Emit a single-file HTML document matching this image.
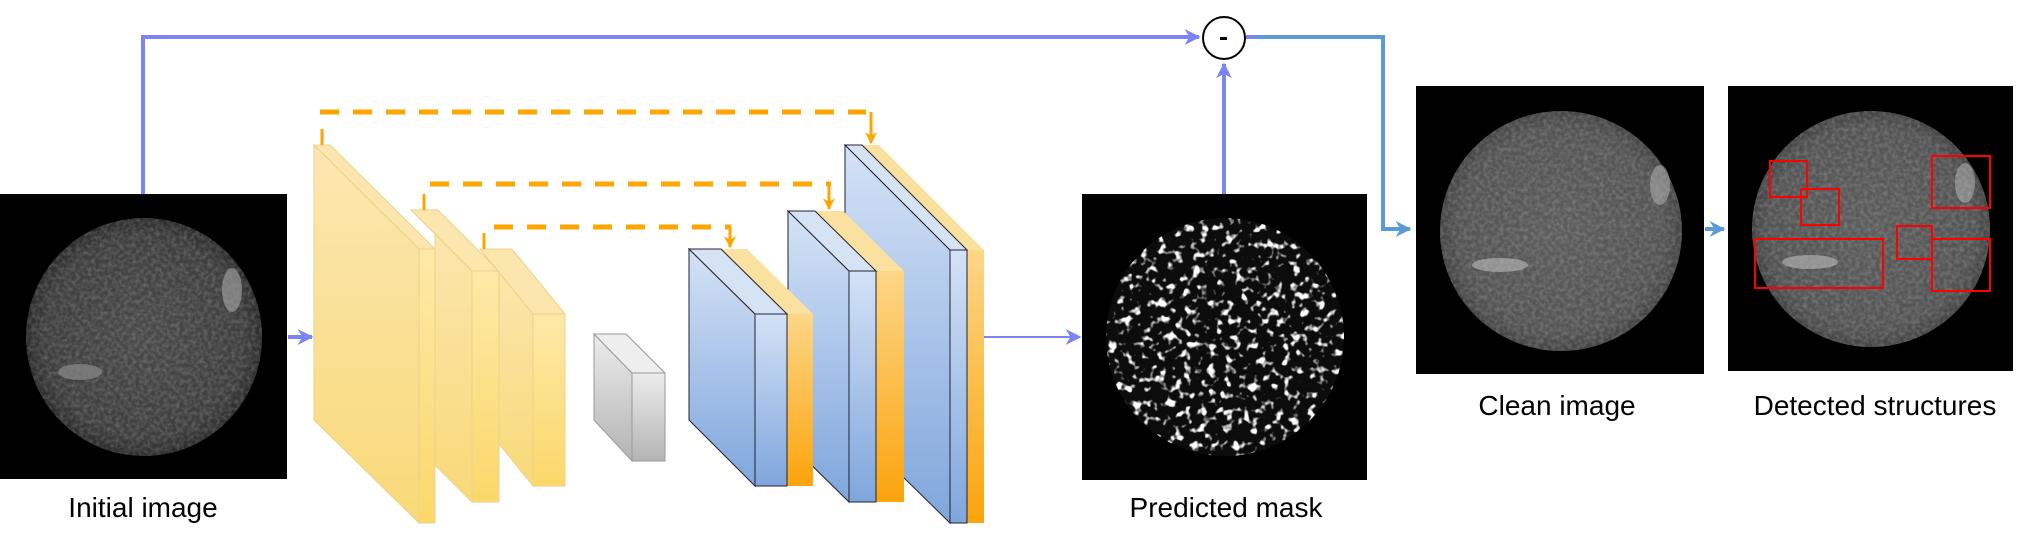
<!DOCTYPE html>
<html><head><meta charset="utf-8"><style>
html,body{margin:0;padding:0;background:#fff;}
svg{display:block;}
text{font-family:"Liberation Sans",sans-serif;}
</style></head><body>
<svg width="2020" height="540" viewBox="0 0 2020 540" xmlns="http://www.w3.org/2000/svg">
<defs>
  <linearGradient id="yel" x1="0" y1="0" x2="0" y2="1"><stop offset="0" stop-color="#fbe7b2"/><stop offset="1" stop-color="#f9d978"/></linearGradient>
  <linearGradient id="yelF" x1="0" y1="0" x2="0" y2="1"><stop offset="0" stop-color="#fde9a8"/><stop offset="1" stop-color="#fcd86a"/></linearGradient>
  <linearGradient id="blu" x1="0" y1="0" x2="0" y2="1"><stop offset="0" stop-color="#d4e2f6"/><stop offset="1" stop-color="#7fa6dc"/></linearGradient>
  <linearGradient id="ora" x1="0" y1="0" x2="0" y2="1"><stop offset="0" stop-color="#fdd688"/><stop offset="1" stop-color="#fba40c"/></linearGradient>
  <linearGradient id="gry" x1="0" y1="0" x2="0" y2="1"><stop offset="0" stop-color="#ececec"/><stop offset="1" stop-color="#b4b4b4"/></linearGradient>
  <radialGradient id="sun" cx="0.5" cy="0.5" r="0.5"><stop offset="0" stop-color="#4a4a4a"/><stop offset="0.85" stop-color="#3e3e3e"/><stop offset="1" stop-color="#2c2c2c"/></radialGradient>
  <radialGradient id="sun2" cx="0.5" cy="0.5" r="0.5"><stop offset="0" stop-color="#5c5c5c"/><stop offset="0.85" stop-color="#545454"/><stop offset="1" stop-color="#444"/></radialGradient>
  <filter id="noise" x="0" y="0" width="1" height="1">
    <feTurbulence type="fractalNoise" baseFrequency="0.25" numOctaves="2" seed="3"/>
    <feColorMatrix type="matrix" values="0 0 0 0 1 0 0 0 0 1 0 0 0 0 1 0 0 0 0.35 -0.12"/>
    <feComposite in2="SourceGraphic" operator="in"/>
  </filter>
  <filter id="specks" x="0" y="0" width="1" height="1">
    <feTurbulence type="fractalNoise" baseFrequency="0.12" numOctaves="2" seed="7"/>
    <feColorMatrix type="matrix" values="0 0 0 0 1 0 0 0 0 1 0 0 0 0 1 0 0 0 6 -3.3"/>
    <feComposite in2="SourceGraphic" operator="in"/>
  </filter>
  <marker id="ab" viewBox="0 0 10 10" refX="9" refY="5" markerWidth="4" markerHeight="4" orient="auto"><path d="M0,0 L10,5 L0,10 L3,5z" fill="#7b83f5"/></marker>
  <marker id="as" viewBox="0 0 10 10" refX="9" refY="5" markerWidth="4" markerHeight="4" orient="auto"><path d="M0,0 L10,5 L0,10 L3,5z" fill="#5b9bd5"/></marker>
  <marker id="abt" viewBox="0 0 10 10" refX="9" refY="5" markerWidth="8" markerHeight="8" orient="auto"><path d="M0,0 L10,5 L0,10 L3,5z" fill="#7b83f5"/></marker>
  <marker id="ao" viewBox="0 0 10 10" refX="9" refY="5" markerWidth="4" markerHeight="4" orient="auto"><path d="M0,0 L10,5 L0,10 L3,5z" fill="#ffa500"/></marker>
</defs>

<g>
  <polyline points="143,194 143,37 1199,37" fill="none" stroke="#7b83f5" stroke-width="4" marker-end="url(#ab)"/>
</g>
<g>
  <circle cx="1224" cy="38" r="21" fill="#fff" stroke="#000" stroke-width="2"/>
  <rect x="1220" y="37" width="7" height="3" fill="#000"/>
</g>
<line x1="1224" y1="194" x2="1224" y2="64" stroke="#7b83f5" stroke-width="4" marker-end="url(#ab)"/>
<line x1="1246" y1="37" x2="1258" y2="37" stroke="#7b83f5" stroke-width="4"/>
<polyline points="1258,37 1383,37 1383,229 1410,229" fill="none" stroke="#5b9bd5" stroke-width="4" marker-end="url(#as)"/>
<line x1="1705" y1="229" x2="1724" y2="229" stroke="#5b9bd5" stroke-width="4" marker-end="url(#as)"/>
<line x1="288" y1="337" x2="312" y2="337" stroke="#7b83f5" stroke-width="4" marker-end="url(#ab)"/>
<line x1="984" y1="337" x2="1080" y2="337" stroke="#7b83f5" stroke-width="2" marker-end="url(#abt)"/>

<g>
  <rect x="0" y="194" width="287" height="285" fill="#000"/>
  <ellipse cx="144" cy="337" rx="118" ry="119" fill="url(#sun)"/>
  <ellipse cx="144" cy="337" rx="118" ry="119" fill="#fff" filter="url(#noise)"/>
  <ellipse cx="232" cy="290" rx="10" ry="22" fill="#9a9a9a" opacity="0.7"/>
  <ellipse cx="80" cy="372" rx="22" ry="8" fill="#8a8a8a" opacity="0.7"/>
</g>
<text x="143" y="517" font-size="28" text-anchor="middle">Initial image</text>

<g stroke="#ecd28a" stroke-width="1">
  <polygon points="314,145 419,249 419,523 314,420" fill="url(#yel)"/>
  <polygon points="314,145 330,145 435,249 419,249" fill="#fbe6ad"/>
  <rect x="419" y="249" width="16" height="274" fill="url(#yelF)"/>
</g>
<g stroke="#ecd28a" stroke-width="1">
  <polygon points="411,210 472,271 472,502 435,465 435,234" fill="url(#yel)"/>
  <polygon points="411,210 438,210 499,271 472,271" fill="#fbe6ad"/>
  <rect x="472" y="271" width="27" height="231" fill="url(#yelF)"/>
</g>
<g stroke="#ecd28a" stroke-width="1">
  <polygon points="480,249 533,314 533,486 499,444 499,272" fill="url(#yel)"/>
  <polygon points="480,249 512,249 565,314 533,314" fill="#fbe6ad"/>
  <rect x="533" y="314" width="32" height="172" fill="url(#yelF)"/>
</g>
<g stroke="#999" stroke-width="1">
  <polygon points="594,334 632,373 632,461 594,420" fill="url(#gry)"/>
  <polygon points="594,334 626,334 665,373 632,373" fill="#eee"/>
  <rect x="632" y="373" width="33" height="88" fill="url(#gry)"/>
</g>

<!-- decoder blocks drawn back to front -->
<g>
  <polygon points="862,145 967,250 984,250 879,145" fill="#fbe1a0"/>
  <rect x="967" y="250" width="17" height="273" fill="url(#ora)"/>
  <polygon points="845,145 950,250 950,523 845,420" fill="url(#blu)" stroke="#223" stroke-width="1"/>
  <polygon points="845,145 862,145 967,250 950,250" fill="#d6e3f5" stroke="#223" stroke-width="1"/>
  <rect x="950" y="250" width="17" height="273" fill="url(#blu)" stroke="#223" stroke-width="1"/>
</g>
<g>
  <polygon points="815,211 876,271 904,271 843,211" fill="#fbe1a0"/>
  <rect x="876" y="271" width="28" height="231" fill="url(#ora)"/>
  <polygon points="788,211 849,271 849,502 788,442" fill="url(#blu)" stroke="#223" stroke-width="1"/>
  <polygon points="788,211 815,211 876,271 849,271" fill="#d6e3f5" stroke="#223" stroke-width="1"/>
  <rect x="849" y="271" width="27" height="231" fill="url(#blu)" stroke="#223" stroke-width="1"/>
</g>
<g>
  <polygon points="721,249 787,314 813,314 747,249" fill="#fbe1a0"/>
  <rect x="787" y="314" width="26" height="172" fill="url(#ora)"/>
  <polygon points="689,249 755,314 755,486 689,420" fill="url(#blu)" stroke="#223" stroke-width="1"/>
  <polygon points="689,249 721,249 787,314 755,314" fill="#d6e3f5" stroke="#223" stroke-width="1"/>
  <rect x="755" y="314" width="32" height="172" fill="url(#blu)" stroke="#223" stroke-width="1"/>
</g>

<g stroke="#ffa500" stroke-width="5" fill="none">
  <line x1="322" y1="129" x2="322" y2="145" stroke-width="3"/>
  <line x1="320" y1="112" x2="866" y2="112" stroke-dasharray="19 14"/>
  <line x1="871" y1="112" x2="871" y2="143" stroke-width="3" marker-end="url(#ao)"/>
  <line x1="424" y1="194" x2="424" y2="210" stroke-width="3"/>
  <line x1="430" y1="184" x2="831" y2="184" stroke-dasharray="19 14"/>
  <line x1="829" y1="184" x2="829" y2="209" stroke-width="3" marker-end="url(#ao)"/>
  <line x1="484" y1="233" x2="484" y2="249" stroke-width="3"/>
  <line x1="494" y1="227" x2="731" y2="227" stroke-dasharray="19 14"/>
  <line x1="730" y1="227" x2="730" y2="247" stroke-width="3" marker-end="url(#ao)"/>
</g>

<g>
  <rect x="1082" y="194" width="285" height="286" fill="#000"/>
  <ellipse cx="1225" cy="337" rx="119" ry="119" fill="#0c0c0c"/>
  <ellipse cx="1225" cy="337" rx="119" ry="119" fill="#fff" filter="url(#specks)"/>
</g>
<text x="1226" y="517" font-size="28" text-anchor="middle">Predicted mask</text>

<g>
  <rect x="1416" y="86" width="288" height="288" fill="#000"/>
  <ellipse cx="1561" cy="231" rx="121" ry="120" fill="url(#sun2)"/>
  <ellipse cx="1561" cy="231" rx="121" ry="120" fill="#fff" filter="url(#noise)"/>
  <ellipse cx="1500" cy="265" rx="28" ry="7" fill="#bbb" opacity="0.6"/>
  <ellipse cx="1660" cy="185" rx="10" ry="20" fill="#bbb" opacity="0.5"/>
</g>
<text x="1557" y="415" font-size="28" text-anchor="middle">Clean image</text>

<g>
  <rect x="1728" y="86" width="285" height="285" fill="#000"/>
  <ellipse cx="1871" cy="229" rx="119" ry="118" fill="url(#sun2)"/>
  <ellipse cx="1871" cy="229" rx="119" ry="118" fill="#fff" filter="url(#noise)"/>
  <ellipse cx="1810" cy="262" rx="28" ry="7" fill="#bbb" opacity="0.6"/>
  <ellipse cx="1965" cy="183" rx="10" ry="20" fill="#bbb" opacity="0.5"/>
  <g fill="none" stroke="#ff0000" stroke-width="2">
    <rect x="1770" y="161" width="37" height="36"/>
    <rect x="1801" y="189" width="38" height="36"/>
    <rect x="1932" y="156" width="58" height="52"/>
    <rect x="1755" y="239" width="128" height="49"/>
    <rect x="1897" y="226" width="35" height="33"/>
    <rect x="1932" y="239" width="58" height="52"/>
  </g>
</g>
<text x="1875" y="415" font-size="28" text-anchor="middle">Detected structures</text>
</svg>
</body></html>
